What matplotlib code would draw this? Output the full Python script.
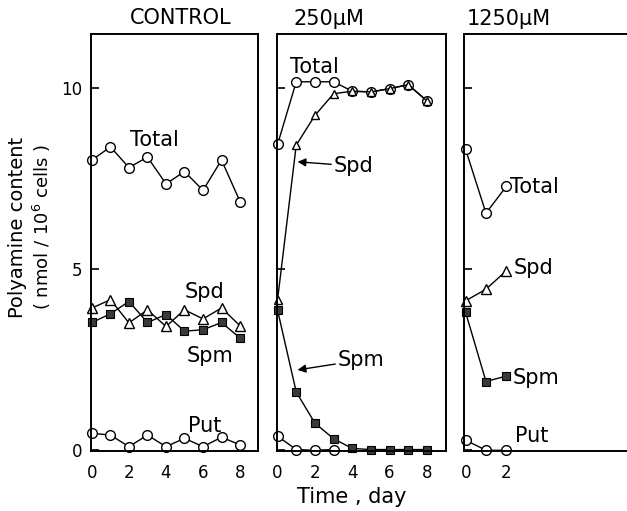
import matplotlib
matplotlib.use("Agg")
import matplotlib.pyplot as plt

W, H = 627, 511

# ---------------- data ----------------
panel_titles = ["CONTROL", "250\u03bcM", "1250\u03bcM"]

days_ctrl = [0, 1, 2, 3, 4, 5, 6, 7, 8]
ctrl_total = [8.02, 8.38, 7.81, 8.10, 7.36, 7.70, 7.18, 8.02, 6.87]
ctrl_spd = [3.93, 4.16, 3.52, 3.88, 3.42, 3.88, 3.63, 3.93, 3.44]
ctrl_spm = [3.53, 3.77, 4.11, 3.53, 3.75, 3.29, 3.33, 3.53, 3.10]
ctrl_put = [0.47, 0.42, 0.10, 0.42, 0.10, 0.33, 0.10, 0.36, 0.15]

days_250 = [0, 1, 2, 3, 4, 5, 6, 7, 8]
m250_total = [8.45, 10.18, 10.18, 10.18, 9.92, 9.90, 9.99, 10.10, 9.65]
m250_spd = [4.16, 8.43, 9.25, 9.85, 9.92, 9.90, 9.99, 10.10, 9.65]
m250_spm = [3.87, 1.61, 0.75, 0.32, 0.05, 0.02, 0.02, 0.02, 0.02]
days_250_put = [0, 1, 2, 3]
m250_put = [0.39, 0.02, 0.00, 0.02]

days_1250 = [0, 1, 2]
m1250_total = [8.31, 6.55, 7.29]
m1250_spd = [4.13, 4.45, 4.96]
m1250_spm = [3.81, 1.90, 2.05]
m1250_put = [0.28, 0.00, 0.00]

yticks = [0, 5, 10]
xticks_full = [0, 2, 4, 6, 8]
xticks_short = [0, 2]

# ---------------- style ----------------
plt.rcParams['font.family'] = ['DejaVu Sans']
num_font = ['Liberation Sans Narrow', 'DejaVu Sans']
FS = 15

fig = plt.figure(figsize=(W / 100, H / 100), dpi=100)


def box(l, r, t, b):
    return [l / W, (H - b) / H, (r - l) / W, (b - t) / H]


def fpx(x, y):
    return (x / W, 1 - y / H)


LW = 1.0
circ = dict(marker='o', ms=7, mfc='white', mec='black', mew=1.0, color='black', lw=LW, clip_on=False)
tri = dict(marker='^', ms=6.5, mfc='white', mec='black', mew=1.0, color='black', lw=LW, clip_on=False)
sq = dict(marker='s', ms=5.5, mfc='#3a3a3a', mec='black', mew=0.8, color='black', lw=LW, clip_on=False)

ylim = (-0.02, 11.5)

axes_specs = [
    (box(91, 258, 34, 451), (-0.05, 8.97), xticks_full),
    (box(277, 446, 34, 451), (-0.03, 9.02), xticks_full),
    (box(464, 627, 34, 451), (-0.08, 7.93), xticks_short),
]

axs = []
for i, (pos, xl, xt) in enumerate(axes_specs):
    ax = fig.add_axes(pos)
    ax.set_xlim(*xl)
    ax.set_ylim(*ylim)
    ax.set_xticks(xt)
    ax.set_xticklabels([str(v) for v in xt], fontsize=12, family=num_font)
    ax.set_yticks(yticks)
    if i == 0:
        ax.set_yticklabels([str(v) for v in yticks], fontsize=12, family=num_font)
    else:
        ax.set_yticklabels([])
    ax.tick_params(axis='y', direction='in', length=6, width=1.2, pad=6)
    ax.tick_params(axis='x', length=0, pad=9)
    for s in ax.spines.values():
        s.set_linewidth(1.4)
    if i == 2:
        ax.spines['right'].set_visible(False)
    axs.append(ax)

# titles
fig.text(*fpx(181, 18), panel_titles[0], ha='center', va='center', fontsize=FS)
fig.text(*fpx(329, 19), panel_titles[1], ha='center', va='center', fontsize=FS)
fig.text(*fpx(509, 19), panel_titles[2], ha='center', va='center', fontsize=FS)

# ---------------- control ----------------
ax = axs[0]
ax.plot(days_ctrl, ctrl_total, **circ)
ax.plot(days_ctrl, ctrl_spd, **tri)
ax.plot(days_ctrl, ctrl_spm, **sq)
ax.plot(days_ctrl, ctrl_put, **circ)
fig.text(*fpx(130, 140), "Total", ha='left', va='center', fontsize=FS)
fig.text(*fpx(185, 292), "Spd", ha='left', va='center', fontsize=FS)
fig.text(*fpx(187, 356), "Spm", ha='left', va='center', fontsize=FS)
fig.text(*fpx(188, 426), "Put", ha='left', va='center', fontsize=FS)

# ---------------- 250 uM ----------------
ax = axs[1]
ax.plot(days_250_put, m250_put, **circ)
ax.plot(days_250, m250_spm, **sq)
ax.plot(days_250, m250_total, **circ)
ax.plot(days_250, m250_spd, **dict(tri, ms=5.5))
fig.text(*fpx(290, 67), "Total", ha='left', va='center', fontsize=FS)
arrow = dict(arrowstyle='-|>', color='black', lw=1.0, mutation_scale=12, shrinkA=0, shrinkB=0)
ax.annotate("Spd", xy=(1.07, 7.97), xytext=fpx(334, 166), textcoords='figure fraction',
            ha='left', va='center', fontsize=FS, arrowprops=arrow)
ax.annotate("Spm", xy=(1.07, 2.22), xytext=fpx(338, 360), textcoords='figure fraction',
            ha='left', va='center', fontsize=FS, arrowprops=arrow)

# ---------------- 1250 uM ----------------
ax = axs[2]
ax.plot(days_1250, m1250_total, **circ)
ax.plot(days_1250, m1250_spd, **tri)
ax.plot(days_1250, m1250_spm, **sq)
ax.plot(days_1250, m1250_put, **circ)
fig.text(*fpx(510, 187), "Total", ha='left', va='center', fontsize=FS)
fig.text(*fpx(514, 268), "Spd", ha='left', va='center', fontsize=FS)
fig.text(*fpx(513, 378), "Spm", ha='left', va='center', fontsize=FS)
fig.text(*fpx(515, 436), "Put", ha='left', va='center', fontsize=FS)

# axis labels
fig.text(*fpx(352, 497), "Time , day", ha='center', va='center', fontsize=FS)
fig.text(*fpx(18, 227), "Polyamine content", ha='center', va='center', rotation=90, fontsize=14)
fig.text(*fpx(42, 227), "( nmol / 10$^6$ cells )", ha='center', va='center', rotation=90, fontsize=13)

fig.savefig("out.png", dpi=100)
